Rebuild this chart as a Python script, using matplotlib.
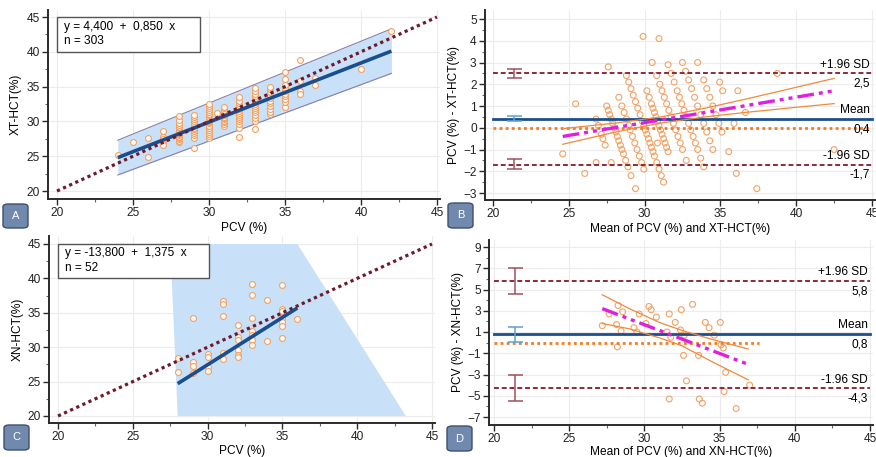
import numpy as np
import matplotlib
matplotlib.use("Agg")
import matplotlib.pyplot as plt
from matplotlib.patches import Rectangle, FancyBboxPatch, Polygon
from matplotlib.ticker import MultipleLocator

plt.rcParams['font.family'] = ['Liberation Sans', 'DejaVu Sans']
FS = 8.6
plt.rcParams['font.size'] = FS

# ---------------- data: panel A (PCV vs XT-HCT) ----------------
xt_pcv_cols = [24, 25, 26, 27, 28, 29, 30, 30.5, 31, 32, 33, 34, 35, 36, 37, 40, 42]
xt_vals_cols = [
    [25.2],
    [27.1],
    [27.6, 24.9],
    [28.6, 27.8, 27.3, 26.9, 26.6, 27.5],
    [27.0, 27.2, 27.4, 27.6, 27.8, 28.0, 28.2, 28.4, 28.6, 28.8, 29.0, 29.2, 29.5, 29.8, 30.2, 30.8],
    [26.2, 27.6, 28.0, 28.3, 28.6, 28.9, 29.1, 29.4, 29.7, 30.0, 30.3, 30.6, 30.9],
    [27.6, 27.9, 28.2, 28.5, 28.8, 29.1, 29.4, 29.7, 29.9, 30.1, 30.3, 30.5, 30.7, 30.9, 31.1, 31.3, 31.6, 31.9, 32.2, 32.5],
    [31.2],
    [29.3, 29.6, 29.9, 30.1, 30.3, 30.5, 30.7, 30.9, 31.1, 31.3, 31.5, 31.7, 31.9, 32.1],
    [27.8, 29.0, 29.6, 30.0, 30.3, 30.6, 30.9, 31.2, 31.5, 31.8, 32.1, 32.4, 32.7, 33.0, 33.5],
    [28.9, 30.1, 30.5, 30.9, 31.3, 31.6, 31.9, 32.2, 32.5, 32.8, 33.1, 33.4, 33.7, 34.0, 34.4, 34.8],
    [31.0, 31.4, 31.8, 32.2, 32.6, 33.0, 33.4, 33.8, 34.2, 34.6, 35.0],
    [32.0, 32.8, 33.2, 33.6, 34.0, 34.4, 34.8, 35.2, 36.1, 37.1],
    [38.8, 35.8, 34.3, 33.9],
    [35.3, 36.3],
    [37.5],
    [43.0],
]
xt_fit_x = [24, 42]
xt_fit_y = [24.8, 40.1]           # y = 4,400 + 0,850 x
xt_band_upper = [27.3, 43.3]
xt_band_lower = [22.3, 36.9]
identity = [20, 45]

# ---------------- data: panel B (Bland-Altman XT) ----------------
b_mean, b_upper, b_lower = 0.4, 2.5, -1.7
b_reg_x = [24.6, 42.5]
b_reg_y = [-0.4, 1.7]
b_ci_x = [24.6, 28, 31, 34, 37, 40, 42.5]
b_ci_up = [-0.04, 0.21, 0.49, 0.90, 1.37, 1.86, 2.27]
b_ci_lo = [-0.76, -0.21, 0.21, 0.50, 0.73, 0.94, 1.11]
b_zero_x = [20, 45]
b_lim_ci = {'upper': (2.31, 2.72), 'mean': (0.31, 0.52), 'lower': (-1.88, -1.45)}

# ---------------- data: panel C (PCV vs XN-HCT) ----------------
xn_pcv_cols = [28, 29, 30, 31, 32, 33, 34, 35, 36]
xn_vals_cols = [
    [28.4, 26.4],
    [34.3, 27.9, 27.3, 26.3],
    [29.0, 28.6, 27.1, 26.5],
    [36.7, 36.3, 34.6, 29.2, 28.3],
    [33.2, 31.5, 31.0, 29.6, 28.9, 28.6],
    [39.2, 37.6, 34.2, 32.3, 31.8, 31.1, 30.3],
    [36.8, 30.9],
    [39.0, 35.5, 35.2, 34.3, 33.6, 33.1, 31.4],
    [34.1],
]
xn_fit_x = [28, 36]
xn_fit_y = [24.7, 35.7]           # y = -13,800 + 1,375 x
xn_band_x = [27.5, 36.0, 43.25, 28.0]
xn_band_y = [45, 45, 20, 20]

# ---------------- data: panel D (Bland-Altman XN) ----------------
d_mean, d_upper, d_lower = 0.8, 5.8, -4.3
d_reg_x = [27.2, 37.0]
d_reg_y = [3.2, -2.1]
d_ci_x = [27.2, 29, 31, 32.5, 34.5, 36.9]
d_ci_up = [4.5, 3.2, 1.9, 1.15, 0.3, -0.6]
d_ci_lo = [1.8, 1.3, 0.45, -0.3, -1.8, -3.5]
d_zero_x = [20, 37.6]
d_lim_ci = {'upper': (4.6, 7.0), 'mean': (0.05, 1.5), 'lower': (-5.5, -3.0)}

# ---------------- derived point sets ----------------
def flatten(cols, vals):
    xs, ys = [], []
    for c, v in zip(cols, vals):
        xs += [c] * len(v)
        ys += v
    return np.array(xs, float), np.array(ys, float)

a_x, a_y = flatten(xt_pcv_cols, xt_vals_cols)
c_x, c_y = flatten(xn_pcv_cols, xn_vals_cols)

W, H = 876, 457
fig = plt.figure(figsize=(W / 100, H / 100), dpi=100)

def place(ax, xmap, ymap, xlim, ylim):
    xv0, xp0, xv1, xp1 = xmap
    yv0, yp0, yv1, yp1 = ymap
    sx = (xp1 - xp0) / (xv1 - xv0)
    sy = (yp1 - yp0) / (yv1 - yv0)
    left = xp0 + (xlim[0] - xv0) * sx
    right = xp0 + (xlim[1] - xv0) * sx
    bot = yp0 + (ylim[0] - yv0) * sy
    top = yp0 + (ylim[1] - yv0) * sy
    ax.set_position([left / W, 1 - bot / H, (right - left) / W, (bot - top) / H])
    ax.set_xlim(*xlim)
    ax.set_ylim(*ylim)

SPINE = '#2b2b2b'
GRID = '#ececec'
ORANGE_PT = '#f2a265'
NAVY = '#1b4e8e'
MAROON = '#6e1a2c'
SDCOL = '#8c2a3a'
MAG = '#e01fe0'
ORL = '#f08a3c'

def style(ax, xmaj, xmin, ymaj, ymin):
    for s in ['top', 'right']:
        ax.spines[s].set_visible(False)
    for s in ['left', 'bottom']:
        ax.spines[s].set_color(SPINE)
        ax.spines[s].set_linewidth(1.4)
    ax.xaxis.set_major_locator(MultipleLocator(xmaj))
    ax.xaxis.set_minor_locator(MultipleLocator(xmin))
    ax.yaxis.set_major_locator(MultipleLocator(ymaj))
    ax.yaxis.set_minor_locator(MultipleLocator(ymin))
    ax.tick_params(which='major', length=4, width=1, color=SPINE, labelsize=FS, pad=2, labelcolor='#222222')
    ax.tick_params(which='minor', length=2.5, width=0.8, color='#666666')
    ax.grid(True, which='major', color=GRID, lw=0.8, zorder=0)
    ax.set_axisbelow(True)

def label_box(x0, y0, w, h, letter):
    p = FancyBboxPatch((x0 / W, 1 - (y0 + h) / H), w / W, h / H,
                       boxstyle='round,pad=0,rounding_size=0.006',
                       transform=fig.transFigure, facecolor='#7189ad',
                       edgecolor='#3c4f70', lw=1.0)
    fig.patches.append(p)
    fig.text((x0 + w / 2) / W, 1 - (y0 + h / 2) / H, letter, color='white',
             ha='center', va='center', fontsize=8)

# ---------------- Panel A ----------------
axA = fig.add_axes([0, 0, 1, 1])
place(axA, (20, 57, 45, 437), (20, 191, 45, 17), (19.4, 45.2), (18.85, 46.0))
style(axA, 5, 2.5, 5, 2.5)
axA.set_xticks([20, 25, 30, 35, 40, 45])
axA.set_yticks([20, 25, 30, 35, 40, 45])
axA.fill_between(xt_fit_x, xt_band_lower, xt_band_upper, color='#c8e1f8', lw=0, zorder=1)
axA.plot(xt_fit_x, xt_band_upper, color='#8a7ea8', lw=0.8, zorder=2)
axA.plot(xt_fit_x, xt_band_lower, color='#8a7ea8', lw=0.8, zorder=2)
axA.scatter(a_x, a_y, s=18, facecolor='#fffaf5', edgecolor=ORANGE_PT, lw=0.8, zorder=3)
axA.plot(xt_fit_x, xt_fit_y, color=NAVY, lw=2.6, zorder=4, solid_capstyle='butt')
axA.plot(identity, identity, color=MAROON, lw=2.3, ls=(0, (1, 1.1)), zorder=5)
axA.add_patch(Rectangle((20, 40), 9.4, 5, facecolor='white', edgecolor='#555555', lw=1.0, zorder=6))
axA.text(20.45, 43.6, 'y = 4,400  +  0,850  x', fontsize=FS, va='center', zorder=7)
axA.text(20.45, 41.55, 'n = 303', fontsize=FS, va='center', zorder=7)
axA.set_xlabel('PCV (%)', fontsize=FS, labelpad=2)
axA.set_ylabel('XT-HCT(%)', fontsize=FS, labelpad=3)

# ---------------- Panel B ----------------
axB = fig.add_axes([0, 0, 1, 1])
place(axB, (20, 493, 45, 872), (-3, 193, 5, 19), (19.47, 45.2), (-3.32, 5.41))
style(axB, 5, 2.5, 1, 0.5)
axB.set_xticks([20, 25, 30, 35, 40, 45])
bx = (a_x + a_y) / 2
by = a_x - a_y
axB.scatter(bx, by, s=18, facecolor='none', edgecolor=ORANGE_PT, lw=0.8, zorder=2)
axB.plot(b_zero_x, [0, 0], color='#f47b20', lw=2.0, ls=(0, (1, 1.2)), zorder=3)
axB.plot([20, 45], [b_upper] * 2, color=SDCOL, lw=1.4, ls=(0, (2.5, 1.5)), zorder=3)
axB.plot([20, 45], [b_lower] * 2, color=SDCOL, lw=1.4, ls=(0, (2.5, 1.5)), zorder=3)
axB.plot([20, 45], [b_mean] * 2, color=NAVY, lw=2.0, zorder=3)
axB.plot(b_ci_x, b_ci_up, color=ORL, lw=0.9, zorder=4)
axB.plot(b_ci_x, b_ci_lo, color=ORL, lw=0.9, zorder=4)
axB.plot(b_reg_x, b_reg_y, color=MAG, lw=2.4, ls=(0, (5, 1.5, 1.2, 1.5, 1.2, 1.5)), zorder=5)
for key, col in [('upper', '#a0505c'), ('mean', '#5aa2d0'), ('lower', '#a0505c')]:
    lo, hi = b_lim_ci[key]
    axB.errorbar([21.4], [(lo + hi) / 2], yerr=[[(hi - lo) / 2], [(hi - lo) / 2]],
                 fmt='none', ecolor=col, elinewidth=1.1, capsize=5.4, capthick=1.1, zorder=6)
for yv, top, bot in [(b_upper, '+1.96 SD', '2,5'), (b_mean, 'Mean', '0,4'), (b_lower, '-1.96 SD', '-1,7')]:
    axB.annotate(top, (44.85, yv), xytext=(0, 2), textcoords='offset points', ha='right', va='bottom', fontsize=FS)
    axB.annotate(bot, (44.85, yv), xytext=(0, -3), textcoords='offset points', ha='right', va='top', fontsize=FS)
axB.set_xlabel('Mean of PCV (%) and XT-HCT(%)', fontsize=FS, labelpad=2)
axB.set_ylabel('PCV (%) - XT-HCT(%)', fontsize=FS, labelpad=2)

# ---------------- Panel C ----------------
axC = fig.add_axes([0, 0, 1, 1])
place(axC, (20, 58, 45, 432), (20, 416, 45, 244), (19.4, 45.2), (18.98, 46.2))
style(axC, 5, 2.5, 5, 2.5)
axC.set_xticks([20, 25, 30, 35, 40, 45])
axC.set_yticks([20, 25, 30, 35, 40, 45])
axC.add_patch(Polygon(list(zip(xn_band_x, xn_band_y)), closed=True, facecolor='#c8e1f8', lw=0, zorder=1))
axC.scatter(c_x, c_y, s=18, facecolor='#fffaf5', edgecolor=ORANGE_PT, lw=0.8, zorder=3)
axC.plot(xn_fit_x, xn_fit_y, color=NAVY, lw=2.6, zorder=4, solid_capstyle='butt')
axC.plot(identity, identity, color=MAROON, lw=2.3, ls=(0, (1, 1.1)), zorder=5)
axC.add_patch(Rectangle((20, 40), 10.1, 5, facecolor='white', edgecolor='#555555', lw=1.0, zorder=6))
axC.text(20.45, 43.7, 'y = -13,800  +  1,375  x', fontsize=FS, va='center', zorder=7)
axC.text(20.45, 41.45, 'n = 52', fontsize=FS, va='center', zorder=7)
axC.set_xlabel('PCV (%)', fontsize=FS, labelpad=1)
axC.set_ylabel('XN-HCT(%)', fontsize=FS, labelpad=3)

# ---------------- Panel D ----------------
axD = fig.add_axes([0, 0, 1, 1])
place(axD, (20, 494, 45, 870), (-7, 417, 9, 247), (19.67, 45.2), (-7.72, 9.69))
style(axD, 5, 2.5, 2, 1)
axD.set_xticks([20, 25, 30, 35, 40, 45])
axD.set_yticks([-7, -5, -3, -1, 1, 3, 5, 7, 9])
axD.yaxis.set_minor_locator(MultipleLocator(1))
dx = (c_x + c_y) / 2
dy = c_x - c_y
axD.scatter(dx, dy, s=18, facecolor='none', edgecolor=ORANGE_PT, lw=0.8, zorder=2)
axD.plot(d_zero_x, [0, 0], color='#f47b20', lw=2.0, ls=(0, (1, 1.2)), zorder=3)
axD.plot([20, 45], [d_upper] * 2, color=SDCOL, lw=1.4, ls=(0, (2.5, 1.5)), zorder=3)
axD.plot([20, 45], [d_lower] * 2, color=SDCOL, lw=1.4, ls=(0, (2.5, 1.5)), zorder=3)
axD.plot([20, 45], [d_mean] * 2, color=NAVY, lw=2.0, zorder=3)
axD.plot(d_ci_x, d_ci_up, color=ORL, lw=0.9, zorder=4)
axD.plot(d_ci_x, d_ci_lo, color=ORL, lw=0.9, zorder=4)
axD.plot(d_reg_x, d_reg_y, color=MAG, lw=2.4, ls=(0, (5, 1.5, 1.2, 1.5, 1.2, 1.5)), zorder=5)
for key, col in [('upper', '#a0505c'), ('mean', '#5aa2d0'), ('lower', '#a0505c')]:
    lo, hi = d_lim_ci[key]
    axD.errorbar([21.4], [(lo + hi) / 2], yerr=[[(hi - lo) / 2], [(hi - lo) / 2]],
                 fmt='none', ecolor=col, elinewidth=1.1, capsize=5.4, capthick=1.1, zorder=6)
for yv, top, bot in [(d_upper, '+1.96 SD', '5,8'), (d_mean, 'Mean', '0,8'), (d_lower, '-1.96 SD', '-4,3')]:
    axD.annotate(top, (44.85, yv), xytext=(0, 2), textcoords='offset points', ha='right', va='bottom', fontsize=FS)
    axD.annotate(bot, (44.85, yv), xytext=(0, -3), textcoords='offset points', ha='right', va='top', fontsize=FS)
axD.set_xlabel('Mean of PCV (%) and XN-HCT(%)', fontsize=FS, labelpad=0.5)
axD.set_ylabel('PCV (%) - XN-HCT(%)', fontsize=FS, labelpad=2)

# panel letters
label_box(3, 204, 25, 24, 'A')
label_box(448, 203, 25, 25, 'B')
label_box(4, 425, 25, 25, 'C')
label_box(447, 426, 25, 25, 'D')

fig.savefig('out.png', dpi=100, facecolor='white')
